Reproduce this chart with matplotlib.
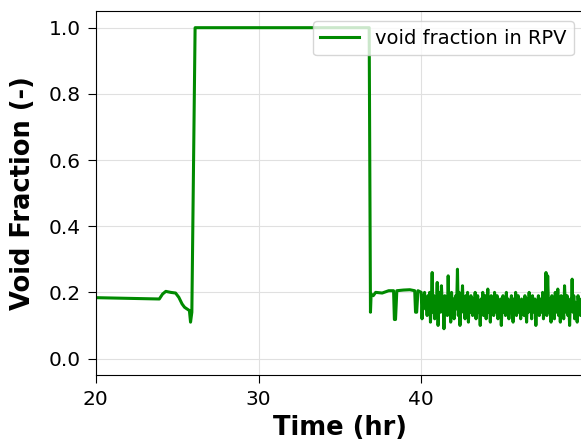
import numpy as np
import matplotlib.pyplot as plt

# ---- void fraction history (time in hr) ----
t_start = [20.0, 21.0, 22.0, 23.0, 23.9, 24.1, 24.3, 24.6, 24.9, 25.1, 25.3,
           25.45, 25.6, 25.75, 25.82, 25.9, 26.1]
v_start = [0.184, 0.183, 0.182, 0.181, 0.180, 0.195, 0.203, 0.200, 0.198, 0.185, 0.165,
           0.155, 0.150, 0.145, 0.110, 0.140, 1.000]

t_plateau = [26.1, 30.0, 33.0, 36.8]
v_plateau = [1.000, 1.000, 1.000, 1.000]

t_refill = [36.88, 36.92, 37.05, 37.2, 37.6, 38.0, 38.3, 38.35, 38.42, 38.5, 38.9,
            39.3, 39.6, 39.65, 39.72, 39.8, 40.0]
v_refill = [0.140, 0.195, 0.190, 0.200, 0.198, 0.205, 0.205, 0.118, 0.118, 0.205, 0.207,
            0.208, 0.205, 0.140, 0.140, 0.205, 0.200]

# oscillating two-phase period after 40 hr, evenly sampled up to the end of the run
v_noisy = [0.120, 0.190, 0.170, 0.200, 0.150, 0.180, 0.130, 0.190, 0.160, 0.200,
           0.110, 0.170, 0.260, 0.140, 0.190, 0.120, 0.180, 0.150, 0.230, 0.100,
           0.170, 0.200, 0.140, 0.220, 0.160, 0.180, 0.090, 0.190, 0.150, 0.170,
           0.130, 0.250, 0.140, 0.190, 0.110, 0.200, 0.160, 0.180, 0.120, 0.170,
           0.190, 0.150, 0.270, 0.130, 0.200, 0.100, 0.180, 0.160, 0.220, 0.140,
           0.170, 0.120, 0.190, 0.150, 0.200, 0.110, 0.170, 0.140, 0.190, 0.160,
           0.130, 0.180, 0.150, 0.200, 0.120, 0.170, 0.190, 0.140, 0.160, 0.100,
           0.180, 0.150, 0.200, 0.130, 0.170, 0.190, 0.120, 0.160, 0.210, 0.140,
           0.170, 0.110, 0.190, 0.150, 0.180, 0.130, 0.200, 0.160, 0.140, 0.190,
           0.120, 0.170, 0.150, 0.180, 0.100, 0.160, 0.190, 0.140, 0.170, 0.130,
           0.200, 0.150, 0.180, 0.120, 0.170, 0.160, 0.190, 0.140, 0.110, 0.180,
           0.150, 0.200, 0.130, 0.170, 0.190, 0.140, 0.160, 0.120, 0.180, 0.150,
           0.170, 0.130, 0.190, 0.160, 0.110, 0.180, 0.140, 0.200, 0.150, 0.170,
           0.120, 0.190, 0.160, 0.140, 0.180, 0.100, 0.170, 0.150, 0.190, 0.130,
           0.160, 0.180, 0.140, 0.200, 0.120, 0.170, 0.150, 0.260, 0.130, 0.250,
           0.160, 0.140, 0.180, 0.110, 0.190, 0.150, 0.170, 0.120, 0.200, 0.160,
           0.140, 0.210, 0.130, 0.170, 0.110, 0.190, 0.150, 0.180, 0.120, 0.220,
           0.160, 0.140, 0.190, 0.130, 0.170, 0.100, 0.180, 0.150, 0.240, 0.140,
           0.190, 0.120, 0.170, 0.160, 0.110, 0.190, 0.150, 0.180, 0.130, 0.170,
           0.140, 0.190]
t_noisy = np.linspace(40.05, 49.95, len(v_noisy))

time = np.concatenate([t_start, t_plateau, t_refill, t_noisy])
void = np.concatenate([v_start, v_plateau, v_refill, v_noisy])

fig = plt.figure(figsize=(5.81, 4.46), dpi=100)
ax = fig.add_axes([0.165, 0.159, 0.84, 0.816])

ax.plot(time, void, color='#008a00', lw=2.2, label='void fraction in RPV')

ax.set_xlim(20, 50)
ax.set_ylim(-0.05, 1.05)
ax.set_xticks([20, 30, 40])
ax.set_yticks([0.0, 0.2, 0.4, 0.6, 0.8, 1.0])
ax.tick_params(labelsize=14.5, length=6, pad=5)
ax.grid(True, color='#e0e0e0', lw=0.8)
ax.set_axisbelow(True)

ax.set_xlabel('Time (hr)', fontsize=18.5, fontweight='bold')
ax.set_ylabel('Void Fraction (-)', fontsize=18.5, fontweight='bold', labelpad=9)
ax.legend(loc='upper right', fontsize=14)

fig.savefig('out.png', dpi=100)
